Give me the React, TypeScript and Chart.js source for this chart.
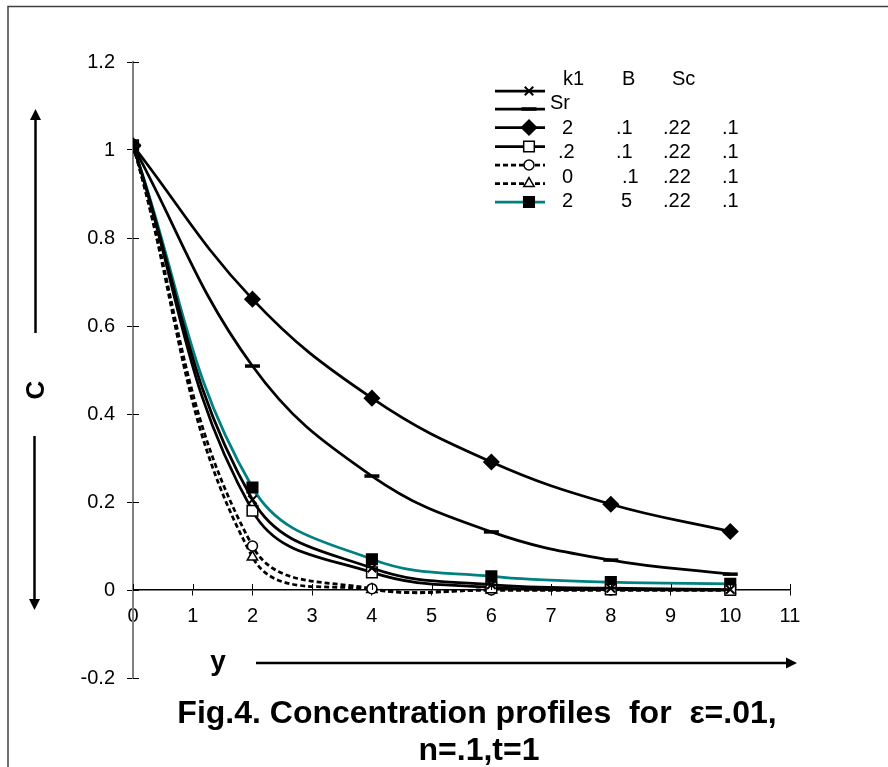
import React, { useEffect, useRef } from 'react';
import { Chart, registerables } from 'chart.js';
import { drawPoint } from 'chart.js/helpers';

Chart.register(...registerables);

// ---- data ----
const xValues = [0, 2, 4, 6, 8, 10];
const seriesCross = [1.01, 0.205, 0.05, 0.012, 0.004, 0.001];
const seriesSr = [1.01, 0.509, 0.259, 0.132, 0.068, 0.036];
const seriesDiamond = [1.01, 0.661, 0.436, 0.291, 0.195, 0.133];
const seriesOpenSquare = [1.01, 0.18, 0.04, 0.006, 0.001, 0.0];
const seriesCircle = [1.01, 0.1, 0.003, 0.0, 0.0, 0.0];
const seriesTriangle = [1.01, 0.075, 0.001, 0.0, 0.0, 0.0];
const seriesTeal = [1.01, 0.233, 0.07, 0.031, 0.018, 0.014];

const legendRows = [
  ['k1', 'B', 'Sc'],
  ['Sr'],
  ['2', '.1', '.22', '.1'],
  ['.2', '.1', '.22', '.1'],
  ['0', '.1', '.22', '.1'],
  ['2', '5', '.22', '.1'],
];
const titleLines = ['Fig.4. Concentration profiles  for  \u03b5=.01,', 'n=.1,t=1'];
const xAxisTitle = 'y';
const yAxisTitle = 'C';

// ---- layout (not data) ----
const W = 888;
const H = 767;
const FONT = '"Liberation Sans", Arial, sans-serif';
const legendTextX = [
  [563, 622, 672],
  [550],
  [562, 616, 663, 722],
  [558, 616, 663, 722],
  [562, 622, 663, 722],
  [562, 621, 663, 722],
];
const legendTextY = [79, 103, 128, 152, 177, 201];
const legendMarkY = [91, 109, 127.5, 146.5, 165, 183.5, 202];

const mk = (vals: number[], opts: any) => ({
  data: xValues.map((x, i) => ({ x, y: vals[i] })),
  tension: 0.4,
  borderWidth: 2.75,
  borderColor: '#000',
  pointBorderColor: '#000',
  pointBackgroundColor: '#000',
  pointBorderWidth: 1.5,
  ...opts,
});

const datasets = [
  mk(seriesCross, { label: 'k1 B Sc', pointStyle: 'crossRot', pointRadius: 6, pointBorderWidth: 2 }),
  mk(seriesSr, { label: 'Sr', pointStyle: 'line', pointRadius: 7.5, pointBorderWidth: 3.5 }),
  mk(seriesDiamond, { label: '2 .1 .22 .1', pointStyle: 'rectRot', pointRadius: 7.5 }),
  mk(seriesOpenSquare, { label: '.2 .1 .22 .1', pointStyle: 'rect', pointRadius: 7.5, pointBackgroundColor: '#fff' }),
  mk(seriesCircle, { label: '0 .1 .22 .1', pointStyle: 'circle', pointRadius: 5, pointBackgroundColor: '#fff', borderDash: [5, 3] }),
  mk(seriesTriangle, { label: '0 .1 .22 .1 b', pointStyle: 'triangle', pointRadius: 6, pointBackgroundColor: '#fff', borderDash: [5, 3] }),
  mk(seriesTeal, { label: '2 5 .22 .1', borderColor: '#008080', pointStyle: 'rect', pointRadius: 7.5 }),
];

const fmtTick = (v: any) => {
  const n = Number(v);
  if (Math.abs(n) < 1e-9) return '0';
  return String(Number(n.toFixed(1)));
};

const arrow = (ctx: CanvasRenderingContext2D, x1: number, y1: number, x2: number, y2: number) => {
  const ang = Math.atan2(y2 - y1, x2 - x1);
  const hl = 11;
  const hw = 5.5;
  const bx = x2 - Math.cos(ang) * hl;
  const by = y2 - Math.sin(ang) * hl;
  ctx.beginPath();
  ctx.moveTo(x1, y1);
  ctx.lineTo(bx, by);
  ctx.stroke();
  ctx.beginPath();
  ctx.moveTo(x2, y2);
  ctx.lineTo(bx + Math.sin(ang) * hw, by - Math.cos(ang) * hw);
  ctx.lineTo(bx - Math.sin(ang) * hw, by + Math.cos(ang) * hw);
  ctx.closePath();
  ctx.fill();
};

const decor = {
  id: 'decor',
  afterDraw(chart: any) {
    const ctx: CanvasRenderingContext2D = chart.ctx;
    const xs = chart.scales.x;
    const ys = chart.scales.y;
    ctx.save();
    // outer frame
    ctx.strokeStyle = '#404040';
    ctx.lineWidth = 1.5;
    ctx.beginPath();
    ctx.moveTo(8, H);
    ctx.lineTo(8, 6.5);
    ctx.lineTo(W, 6.5);
    ctx.stroke();

    // inner parts of tick marks
    const y0 = ys.getPixelForValue(0);
    ctx.strokeStyle = '#000';
    ctx.lineWidth = 1;
    xs.ticks.forEach((t: any) => {
      const px = Math.round(xs.getPixelForValue(t.value)) + 0.5;
      ctx.beginPath();
      ctx.moveTo(px, y0 - 6);
      ctx.lineTo(px, y0);
      ctx.stroke();
    });
    const xl = xs.getPixelForValue(0);
    ys.ticks.forEach((t: any) => {
      const py = Math.round(ys.getPixelForValue(t.value)) + 0.5;
      ctx.beginPath();
      ctx.moveTo(xl, py);
      ctx.lineTo(xl + 6, py);
      ctx.stroke();
    });

    // legend
    chart.data.datasets.forEach((ds: any, i: number) => {
      const yy = legendMarkY[i];
      ctx.save();
      ctx.strokeStyle = ds.borderColor;
      ctx.lineWidth = 2.75;
      ctx.setLineDash(ds.borderDash || []);
      ctx.beginPath();
      ctx.moveTo(495, yy);
      ctx.lineTo(545, yy);
      ctx.stroke();
      ctx.setLineDash([]);
      ctx.fillStyle = ds.pointBackgroundColor;
      ctx.strokeStyle = ds.pointBorderColor;
      ctx.lineWidth = ds.pointBorderWidth;
      drawPoint(ctx, { pointStyle: ds.pointStyle, radius: ds.pointRadius, rotation: 0, borderWidth: ds.pointBorderWidth } as any, 529, yy);
      ctx.restore();
    });
    ctx.fillStyle = '#000';
    ctx.font = `20px ${FONT}`;
    ctx.textAlign = 'left';
    ctx.textBaseline = 'middle';
    legendRows.forEach((row, r) => {
      row.forEach((txt, c) => {
        ctx.fillText(txt, legendTextX[r][c], legendTextY[r]);
      });
    });

    // y-axis title with arrows
    ctx.lineWidth = 2.5;
    ctx.strokeStyle = '#000';
    ctx.fillStyle = '#000';
    arrow(ctx, 35.5, 333, 35.5, 109);
    arrow(ctx, 34.5, 436, 34.5, 610);
    ctx.save();
    ctx.translate(36, 390);
    ctx.rotate(-Math.PI / 2);
    ctx.font = `bold 26px ${FONT}`;
    ctx.textAlign = 'center';
    ctx.textBaseline = 'middle';
    ctx.fillText(yAxisTitle, 0, 1);
    ctx.restore();

    // x-axis title with arrow
    ctx.font = `bold 28px ${FONT}`;
    ctx.textAlign = 'center';
    ctx.textBaseline = 'alphabetic';
    ctx.fillText(xAxisTitle, 218, 670);
    ctx.lineWidth = 2.5;
    arrow(ctx, 256, 663, 797, 663);

    // figure caption
    ctx.font = `bold 32px ${FONT}`;
    ctx.textAlign = 'center';
    ctx.fillText(titleLines[0], 477, 723);
    ctx.fillText(titleLines[1], 479, 760);
    ctx.restore();
  },
};

export default function App() {
  const ref = useRef<HTMLCanvasElement>(null);
  useEffect(() => {
    const chart = new Chart(ref.current as HTMLCanvasElement, {
      type: 'line',
      data: { datasets: datasets as any },
      options: {
        responsive: false,
        devicePixelRatio: 1,
        animation: false,
        events: [],
        layout: { padding: { left: 0, top: 62, right: 98, bottom: 89 } },
        plugins: { legend: { display: false }, tooltip: { enabled: false }, title: { display: false } },
        scales: {
          x: {
            type: 'linear',
            position: { y: 0 } as any,
            min: 0,
            max: 11,
            afterFit: (s: any) => { s.height = 0; },
            grid: { display: true, drawOnChartArea: false, drawTicks: true, tickLength: 5, color: '#000', lineWidth: 1 },
            border: { display: true, color: '#000', width: 1.5 },
            ticks: { stepSize: 1, padding: 9, color: '#000', font: { family: FONT, size: 20 }, maxRotation: 0, autoSkip: false },
          },
          y: {
            type: 'linear',
            min: -0.2,
            max: 1.2,
            afterFit: (s: any) => { s.width = 133; },
            grid: { display: true, drawOnChartArea: false, drawTicks: true, tickLength: 6, color: '#000', lineWidth: 1 },
            border: { display: true, color: '#808080', width: 2 },
            ticks: { stepSize: 0.2, padding: 12, color: '#000', font: { family: FONT, size: 20 }, callback: fmtTick },
          },
        },
      },
      plugins: [decor],
    });
    return () => chart.destroy();
  }, []);
  return (
    <div style={{ position: 'fixed', left: 0, top: 0, width: W, height: H, background: '#fff' }}>
      <canvas ref={ref} width={W} height={H} style={{ width: W, height: H, display: 'block' }} />
    </div>
  );
}
